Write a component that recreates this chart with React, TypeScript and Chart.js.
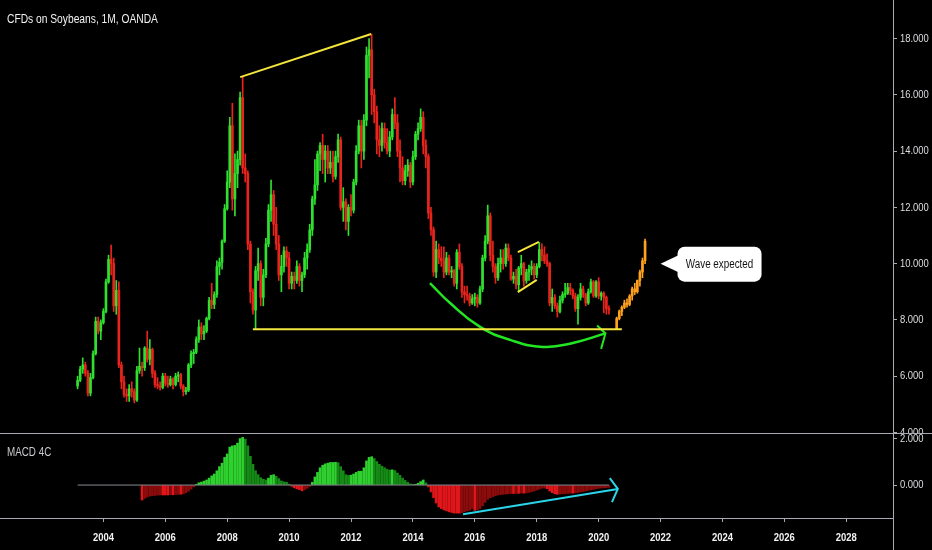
import { useEffect, useRef } from "react";
import { Chart, registerables, LinearScale } from "chart.js";

// A linear scale whose tick labels are drawn in a narrow (Arial Narrow-like) style.
const NARROW = 0.82;
class NarrowLinearScale extends LinearScale {
  static id = "narrowLinear";
  drawLabels(chartArea: any) {
    const self: any = this;
    const ctx = self.ctx;
    const items = self.getLabelItems(chartArea);
    for (const item of items) {
      const o = item.options;
      ctx.save();
      ctx.translate(o.translation[0], o.translation[1]);
      ctx.scale(NARROW, 1);
      ctx.font = item.font.string;
      ctx.fillStyle = o.color;
      ctx.textAlign = o.textAlign;
      ctx.textBaseline = o.textBaseline;
      ctx.fillText(String(item.label), 0, item.textOffset);
      ctx.restore();
    }
  }
}

Chart.register(...registerables, NarrowLinearScale as any);

// ---------- DATA ----------
// Monthly candles, first candle = March 2003, last = May 2020
const START_YEAR = 2003;
const START_MONTH = 3;

const opens = [
  5.65, 5.85, 6.25, 6.40, 6.10, 5.40, 5.95, 6.80, 7.95, 7.60,
  7.90, 8.30, 9.35, 10.15, 10.00, 8.50, 9.05, 6.40, 5.80, 5.35, 5.30, 5.55,
  5.45, 5.15, 6.20, 6.35, 6.30, 7.00, 6.60, 6.95, 6.10, 5.70, 5.65, 5.60,
  6.00, 5.75, 5.70, 5.90, 5.70, 6.00, 6.05, 5.65, 5.45, 5.50, 6.40, 6.80,
  6.85, 7.30, 7.75, 7.50, 7.60, 8.05, 8.70, 8.55, 8.90, 9.90, 10.05, 10.80,
  11.95, 12.90, 14.90, 12.30, 13.20, 13.70, 15.90, 13.40, 13.20, 10.70, 9.00, 8.35,
  9.75, 10.00, 8.80, 9.60, 10.70, 11.90, 12.45, 11.40, 10.70, 9.60, 9.90, 10.45,
  10.20, 9.30, 9.55, 9.40, 9.90, 9.40, 9.60, 10.20, 10.50, 11.20, 12.30, 12.80,
  13.90, 14.20, 13.70, 14.00, 13.40, 13.60, 13.10, 13.80, 14.40, 12.00, 12.20, 11.50,
  12.00, 11.90, 12.90, 14.00, 14.90, 14.00, 15.10, 17.40, 17.60, 16.00, 15.40, 14.40,
  14.20, 14.80, 14.30, 14.00, 14.50, 15.30, 15.00, 14.00, 13.40, 12.95, 13.30, 13.50,
  12.90, 13.80, 14.60, 14.80, 15.20, 14.20, 13.80, 11.80, 11.20, 9.70, 10.50, 10.20,
  10.10, 9.70, 10.20, 9.70, 9.75, 9.30, 10.40, 9.90, 9.00, 8.90, 8.85, 8.60,
  8.75, 8.80, 8.60, 9.10, 10.20, 10.80, 11.70, 10.30, 9.90, 9.50, 10.00, 10.20,
  10.00, 10.55, 10.20, 9.45, 9.55, 9.25, 9.85, 10.00, 9.40, 9.70, 9.80, 9.90,
  9.60, 9.90, 10.50, 10.30, 10.10, 10.00, 8.60, 8.80, 8.50, 8.30, 8.70, 8.90,
  8.95, 9.15, 9.05, 8.85, 8.40, 8.80, 9.10, 8.90, 8.60, 9.00, 9.35, 8.85,
  9.35, 8.85, 8.95, 8.80, 8.40,
];
const highs = [
  6.00, 6.35, 6.65, 6.50, 6.20, 6.10, 6.90, 8.10, 8.10, 8.00,
  8.40, 9.45, 10.30, 10.66, 10.20, 9.40, 9.35, 6.50, 6.00, 5.55, 5.70, 5.80,
  5.55, 6.35, 7.00, 6.50, 7.05, 7.60, 7.30, 7.00, 6.20, 5.95, 5.80, 6.10,
  6.10, 6.00, 6.00, 5.95, 6.10, 6.15, 6.10, 5.70, 5.60, 6.45, 6.90, 6.95,
  7.40, 8.00, 7.90, 7.80, 8.10, 8.80, 9.30, 9.00, 10.10, 10.20, 10.85, 12.10,
  13.30, 15.20, 15.70, 13.90, 14.00, 16.10, 16.63, 13.90, 13.30, 10.80, 9.10, 9.90,
  10.55, 10.10, 9.80, 10.90, 12.10, 12.97, 12.60, 12.00, 11.00, 10.30, 10.60, 10.60,
  10.40, 9.70, 9.70, 10.10, 10.00, 9.70, 10.40, 10.70, 11.40, 12.40, 13.70, 14.00,
  14.30, 14.60, 14.20, 14.20, 14.00, 14.00, 14.00, 14.60, 14.50, 12.70, 12.30, 12.10,
  12.45, 13.00, 14.20, 15.10, 15.10, 15.30, 17.70, 18.00, 18.16, 16.20, 15.60, 14.90,
  15.00, 15.00, 14.80, 14.70, 15.50, 15.90, 15.30, 14.40, 13.80, 13.50, 13.70, 13.60,
  14.00, 14.70, 15.00, 15.50, 15.40, 14.40, 13.90, 12.00, 11.30, 10.80, 10.70, 10.60,
  10.60, 10.40, 10.30, 9.90, 9.80, 10.50, 10.70, 10.00, 9.20, 9.20, 8.95, 8.90,
  8.95, 8.90, 9.20, 10.30, 11.00, 12.08, 11.80, 10.80, 10.00, 10.20, 10.50, 10.50,
  10.70, 10.70, 10.30, 9.70, 9.80, 9.90, 10.30, 10.05, 9.80, 9.95, 10.10, 10.00,
  10.00, 10.75, 10.70, 10.60, 10.35, 10.05, 9.10, 8.90, 8.60, 8.85, 9.00, 9.30,
  9.30, 9.30, 9.10, 8.95, 8.90, 9.30, 9.20, 8.95, 9.10, 9.45, 9.40, 9.40,
  9.50, 9.00, 9.00, 8.85, 8.50,
];
const lows = [
  5.55, 5.80, 6.10, 6.00, 5.30, 5.30, 5.90, 6.75, 7.50, 7.30,
  7.85, 8.25, 9.30, 9.60, 8.30, 8.20, 6.30, 5.55, 5.25, 5.10, 5.10, 5.25,
  5.05, 5.10, 6.10, 6.00, 6.20, 6.50, 6.40, 5.95, 5.60, 5.55, 5.50, 5.55,
  5.65, 5.60, 5.65, 5.55, 5.65, 5.80, 5.55, 5.30, 5.35, 5.45, 6.30, 6.45,
  6.80, 7.20, 7.30, 7.30, 7.55, 8.00, 8.40, 8.40, 8.80, 9.60, 9.80, 10.75,
  11.90, 12.70, 11.90, 11.70, 12.70, 13.50, 13.20, 12.90, 10.50, 8.60, 8.20, 7.67,
  9.40, 8.50, 8.50, 9.50, 10.60, 11.50, 11.00, 10.50, 9.40, 9.00, 9.70, 9.90,
  9.10, 9.10, 9.10, 9.30, 9.20, 9.00, 9.50, 9.80, 10.40, 11.00, 12.10, 12.60,
  13.30, 13.20, 12.90, 13.20, 13.20, 12.90, 13.00, 13.60, 11.90, 11.50, 11.20, 11.00,
  11.70, 11.80, 12.80, 13.90, 13.40, 13.70, 14.90, 16.60, 15.30, 15.00, 13.90, 13.80,
  14.00, 14.10, 13.90, 13.80, 14.40, 14.80, 13.80, 12.90, 12.80, 12.80, 13.10, 12.70,
  12.80, 13.70, 14.40, 14.70, 13.90, 13.40, 11.60, 11.00, 9.55, 9.50, 10.00, 9.90,
  9.50, 9.60, 9.60, 9.50, 9.20, 9.10, 9.80, 8.80, 8.60, 8.70, 8.50, 8.55,
  8.50, 8.45, 8.55, 9.00, 10.10, 10.70, 10.10, 9.70, 9.30, 9.40, 9.70, 9.80,
  9.90, 10.10, 9.40, 9.30, 9.10, 9.00, 9.60, 9.20, 9.30, 9.40, 9.60, 9.45,
  9.50, 9.85, 10.10, 10.00, 9.90, 8.50, 8.30, 8.40, 8.10, 8.25, 8.60, 8.80,
  8.90, 8.90, 8.75, 8.30, 7.85, 8.70, 8.80, 8.50, 8.55, 8.95, 8.80, 8.80,
  8.75, 8.70, 8.25, 8.20, 8.20,
];
const closes = [
  5.85, 6.25, 6.40, 6.10, 5.40, 5.95, 6.80, 7.95, 7.60, 7.90,
  8.30, 9.35, 10.15, 10.00, 8.50, 9.05, 6.40, 5.80, 5.35, 5.30, 5.55, 5.45,
  5.15, 6.20, 6.35, 6.30, 7.00, 6.60, 6.95, 6.10, 5.70, 5.65, 5.60, 6.00,
  5.75, 5.70, 5.90, 5.70, 6.00, 6.05, 5.65, 5.45, 5.50, 6.40, 6.80, 6.85,
  7.30, 7.75, 7.50, 7.60, 8.05, 8.70, 8.55, 8.90, 9.90, 10.05, 10.80, 11.95,
  12.90, 14.90, 12.30, 13.20, 13.70, 15.90, 13.40, 13.20, 10.70, 9.00, 8.35, 9.75,
  10.00, 8.80, 9.60, 10.70, 11.90, 12.45, 11.40, 10.70, 9.60, 9.90, 10.45, 10.20,
  9.30, 9.55, 9.40, 9.90, 9.40, 9.60, 10.20, 10.50, 11.20, 12.30, 12.80, 13.90,
  14.20, 13.70, 14.00, 13.40, 13.60, 13.10, 13.80, 14.40, 12.00, 12.20, 11.50, 12.00,
  11.90, 12.90, 14.00, 14.90, 14.00, 15.10, 17.40, 17.60, 16.00, 15.40, 14.40, 14.20,
  14.80, 14.30, 14.00, 14.50, 15.30, 15.00, 14.00, 13.40, 12.95, 13.30, 13.50, 12.90,
  13.80, 14.60, 14.80, 15.20, 14.20, 13.80, 11.80, 11.20, 9.70, 10.50, 10.20, 10.10,
  9.70, 10.20, 9.70, 9.75, 9.30, 10.40, 9.90, 9.00, 8.90, 8.85, 8.60, 8.75,
  8.80, 8.60, 9.10, 10.20, 10.80, 11.70, 10.30, 9.90, 9.50, 10.00, 10.20, 10.00,
  10.55, 10.20, 9.45, 9.55, 9.25, 9.85, 10.00, 9.40, 9.70, 9.80, 9.90, 9.60,
  9.90, 10.50, 10.30, 10.10, 10.00, 8.60, 8.80, 8.50, 8.30, 8.70, 8.90, 8.95,
  9.15, 9.05, 8.85, 8.40, 8.80, 9.10, 8.90, 8.60, 9.00, 9.35, 8.85, 9.35,
  8.85, 8.95, 8.80, 8.40, 8.35,
];

// Projected ("wave expected") candles, Aug 2020 .. Jul 2021
const FORECAST_START_INDEX = 209;
const forecastOpens = [7.67, 8.05, 8.30, 8.45, 8.60, 8.55, 8.85, 9.10, 9.00, 9.40, 9.70, 10.10];
const forecastHighs = [8.10, 8.35, 8.50, 8.70, 8.75, 8.90, 9.17, 9.30, 9.42, 9.77, 10.20, 10.87];
const forecastLows = [7.67, 8.00, 8.15, 8.40, 8.45, 8.50, 8.70, 8.90, 8.95, 9.20, 9.50, 10.00];
const forecastCloses = [8.05, 8.30, 8.45, 8.60, 8.55, 8.85, 9.10, 9.00, 9.40, 9.70, 10.10, 10.80];

// MACD 4C values, Apr 2005 .. May 2020
const MACD_START_INDEX = 25;
const macdValues = [
  -0.65, -0.58, -0.52, -0.48, -0.46, -0.45, -0.44, -0.43, -0.43,
  -0.43, -0.43, -0.42, -0.42, -0.41, -0.40, -0.40, -0.38, -0.33, -0.27, -0.18, -0.08,
  0.03, 0.10, 0.13, 0.17, 0.22, 0.30, 0.40, 0.48, 0.62, 0.80, 0.95, 1.20,
  1.35, 1.65, 1.70, 1.72, 1.82, 2.02, 2.07, 1.99, 1.70, 1.25, 0.90, 0.62,
  0.45, 0.32, 0.25, 0.22, 0.30, 0.42, 0.45, 0.38, 0.28, 0.18, 0.14, 0.12,
  0.04, -0.05, -0.12, -0.16, -0.20, -0.25, -0.20, -0.14, -0.06, 0.12, 0.35, 0.55,
  0.75, 0.86, 0.92, 0.95, 0.98, 0.98, 0.99, 0.97, 0.80, 0.62, 0.45, 0.42,
  0.43, 0.48, 0.55, 0.60, 0.60, 0.75, 1.05, 1.20, 1.23, 1.15, 1.02, 0.90,
  0.82, 0.75, 0.68, 0.65, 0.66, 0.63, 0.52, 0.42, 0.30, 0.20, 0.12, 0.05,
  0.03, 0.03, 0.08, 0.15, 0.22, 0.10, -0.08, -0.30, -0.55, -0.78, -0.95, -1.02,
  -1.08, -1.12, -1.16, -1.19, -1.22, -1.22, -1.22, -1.20, -1.16, -1.12, -1.09, -1.02,
  -1.10, -1.08, -1.02, -0.90, -0.75, -0.62, -0.55, -0.50, -0.46, -0.43, -0.41, -0.40,
  -0.39, -0.38, -0.37, -0.37, -0.36, -0.36, -0.35, -0.35, -0.34, -0.32, -0.29, -0.26,
  -0.22, -0.18, -0.14, -0.13, -0.16, -0.26, -0.33, -0.38, -0.40, -0.39, -0.38, -0.37,
  -0.36, -0.35, -0.35, -0.34, -0.32, -0.30, -0.28, -0.26, -0.23, -0.21, -0.19, -0.16,
  -0.14, -0.13, -0.12, -0.11, -0.10,
];

// Drawings (in data coordinates: year, price)
const topTrendLine = [{ x: 2008.42, y: 16.63 }, { x: 2012.65, y: 18.16 }];
const supportLine = [{ x: 2008.83, y: 7.67 }, { x: 2020.75, y: 7.67 }];
const flagUpper = [{ x: 2017.39, y: 10.41 }, { x: 2018.07, y: 10.77 }];
const flagLower = [{ x: 2017.39, y: 8.99 }, { x: 2018.0, y: 9.42 }];
const greenArc = [
  { x: 2014.55, y: 9.31 }, { x: 2015.2, y: 8.6 }, { x: 2016.17, y: 7.75 },
  { x: 2017.14, y: 7.29 }, { x: 2018.2, y: 7.04 }, { x: 2019.17, y: 7.18 },
  { x: 2020.22, y: 7.52 },
];
const greenArrowHead = [{ x: 2019.95, y: 7.8 }, { x: 2020.22, y: 7.52 }, { x: 2020.08, y: 6.97 }];
const macdTrendLine = [{ x: 2015.62, y: -1.27 }, { x: 2020.62, y: -0.17 }];
const macdArrowHead = [{ x: 2020.36, y: 0.3 }, { x: 2020.62, y: -0.17 }, { x: 2020.43, y: -0.74 }];
const calloutAnchor = { x: 2022.0, y: 10.0 };
const calloutText = "Wave expected";
const chartTitle = "CFDs on Soybeans, 1M, OANDA";
const macdTitle = "MACD 4C";

const priceTicks = [4, 6, 8, 10, 12, 14, 16, 18];
const macdTicks = [0, 2];
const yearTicks = [2004, 2006, 2008, 2010, 2012, 2014, 2016, 2018, 2020, 2022, 2024, 2026, 2028];

// ---------- STYLE ----------
const X_MIN = 2000.66;
const X_MAX = 2029.51;
const FONT = "'Liberation Sans', Arial, sans-serif";
const UP = "#2fe02f";
const DOWN = "#e8241c";
const ORANGE = "#ffa01e";
const YELLOW = "#f5e63c";
const AXIS = "#a8abb3";
const TEXT = "#dcdde0";

const monthToX = (i: number) => START_YEAR + (START_MONTH - 1 + i) / 12;

const fixAxisWidth = (scale: any) => {
  scale.width = 39;
  scale.paddingTop = 0;
  scale.paddingBottom = 0;
};

const narrowText = (
  ctx: CanvasRenderingContext2D,
  text: string,
  x: number,
  y: number,
  font: string,
  color: string,
  align: CanvasTextAlign
) => {
  ctx.save();
  ctx.translate(x, y);
  ctx.scale(NARROW, 1);
  ctx.font = font;
  ctx.fillStyle = color;
  ctx.textAlign = align;
  ctx.textBaseline = "middle";
  ctx.fillText(text, 0, 0);
  ctx.restore();
};

export default function App() {
  const priceRef = useRef<HTMLCanvasElement | null>(null);
  const macdRef = useRef<HTMLCanvasElement | null>(null);

  useEffect(() => {
    document.body.style.margin = "0";
    document.body.style.background = "#000";
    document.documentElement.style.background = "#000";

    const isUp = (i: number) => closes[i] >= opens[i];

    const wicks = highs.map((h, i) => ({ x: monthToX(i), y: [lows[i], h] }));
    const bodies = opens.map((o, i) => ({ x: monthToX(i), y: [o, closes[i]] }));
    const fWicks = forecastHighs.map((h, i) => ({
      x: monthToX(FORECAST_START_INDEX + i),
      y: [forecastLows[i], h],
    }));
    const fBodies = forecastOpens.map((o, i) => ({
      x: monthToX(FORECAST_START_INDEX + i),
      y: [o, forecastCloses[i]],
    }));

    const lineDs = (data: any[], color: string, width: number, extra: any = {}) => ({
      type: "line" as const,
      data,
      borderColor: color,
      borderWidth: width,
      pointRadius: 0,
      fill: false,
      order: 0,
      ...extra,
    });

    const calloutPlugin = {
      id: "callout",
      afterDatasetsDraw(chart: any) {
        const { ctx, scales } = chart;
        const tx = scales.x.getPixelForValue(calloutAnchor.x);
        const ty = scales.y.getPixelForValue(calloutAnchor.y);
        ctx.save();
        ctx.fillStyle = "#ffffff";
        ctx.beginPath();
        ctx.moveTo(tx, ty);
        ctx.lineTo(tx + 19, ty - 9);
        ctx.lineTo(tx + 19, ty + 9);
        ctx.closePath();
        ctx.fill();
        const rx = tx + 17;
        const ry = ty - 17;
        const rw = 84;
        const rh = 35;
        ctx.beginPath();
        ctx.roundRect(rx, ry, rw, rh, 7);
        ctx.fill();
        ctx.restore();
        narrowText(ctx, calloutText, rx + rw / 2, ty + 1, `12px ${FONT}`, "#111111", "center");
        narrowText(ctx, chartTitle, 7, 20, `12.5px ${FONT}`, "#f2f2f2", "left");
      },
    };

    const price = new Chart(priceRef.current as HTMLCanvasElement, {
      type: "bar",
      data: {
        datasets: [
          {
            type: "bar",
            data: wicks as any,
            barThickness: 1,
            grouped: false,
            backgroundColor: (c: any) => (isUp(c.dataIndex) ? UP : DOWN),
            order: 2,
          },
          {
            type: "bar",
            data: bodies as any,
            barThickness: 2,
            minBarLength: 1,
            grouped: false,
            backgroundColor: (c: any) => (isUp(c.dataIndex) ? UP : DOWN),
            order: 1,
          },
          {
            type: "bar",
            data: fWicks as any,
            barThickness: 1,
            grouped: false,
            backgroundColor: ORANGE,
            order: 2,
          },
          {
            type: "bar",
            data: fBodies as any,
            barThickness: 2,
            minBarLength: 1,
            grouped: false,
            backgroundColor: ORANGE,
            order: 1,
          },
          lineDs(topTrendLine, YELLOW, 2),
          lineDs(supportLine, YELLOW, 2),
          lineDs(flagUpper, YELLOW, 2),
          lineDs(flagLower, YELLOW, 2),
          lineDs(greenArc, "#22e622", 2.5, { tension: 0.45 }),
          lineDs(greenArrowHead, "#22e622", 2),
        ] as any,
      },
      options: {
        animation: false,
        responsive: false,
        maintainAspectRatio: false,
        layout: { padding: 0 },
        plugins: { legend: { display: false }, tooltip: { enabled: false } },
        scales: {
          x: {
            type: "linear",
            min: X_MIN,
            max: X_MAX,
            offset: false,
            display: false,
          },
          y: {
            type: "narrowLinear",
            position: "right",
            min: 3.98,
            max: 19.37,
            afterBuildTicks: (s: any) => {
              s.ticks = priceTicks.map((v) => ({ value: v }));
            },
            afterFit: fixAxisWidth,
            grid: { drawOnChartArea: false, drawTicks: true, tickLength: 4, color: AXIS, offset: false },
            border: { display: true, color: AXIS, width: 1 },
            ticks: {
              color: TEXT,
              padding: 3,
              font: { family: FONT, size: 11.5 },
              callback: (v: any) => Number(v).toFixed(3),
            },
          } as any,
        },
      },
      plugins: [calloutPlugin],
    });

    const macdData = macdValues.map((v, i) => ({ x: monthToX(MACD_START_INDEX + i), y: v }));
    const macdColor = (c: any) => {
      const i = c.dataIndex;
      const v = macdValues[i];
      const prev = i > 0 ? macdValues[i - 1] : v;
      if (v >= 0) return v >= prev ? "#2ed12e" : "#168a16";
      return v <= prev ? "#e0161a" : "#8c0c0c";
    };

    const frame = {
      id: "frame",
      afterDraw(chart: any) {
        const { ctx, width, height, chartArea } = chart;
        ctx.save();
        ctx.strokeStyle = AXIS;
        ctx.lineWidth = 1;
        ctx.beginPath();
        ctx.moveTo(0, 0.5);
        ctx.lineTo(width, 0.5);
        ctx.moveTo(Math.round(chartArea.right) + 0.5, 0);
        ctx.lineTo(Math.round(chartArea.right) + 0.5, height);
        ctx.stroke();
        ctx.restore();
        narrowText(ctx, macdTitle, 7, 20, `12px ${FONT}`, "#c9cacd", "left");
      },
    };

    const macd = new Chart(macdRef.current as HTMLCanvasElement, {
      type: "bar",
      data: {
        datasets: [
          {
            type: "bar",
            data: macdData as any,
            barThickness: 2,
            grouped: false,
            backgroundColor: macdColor,
            order: 2,
          },
          lineDs(
            [{ x: monthToX(0), y: 0 }, { x: monthToX(opens.length - 1), y: 0 }],
            "#8a8c93",
            1,
            { order: 1 }
          ),
          lineDs(macdTrendLine, "#2bd5e8", 2),
          lineDs(macdArrowHead, "#2bd5e8", 2),
        ] as any,
      },
      options: {
        animation: false,
        responsive: false,
        maintainAspectRatio: false,
        layout: { padding: 0 },
        plugins: { legend: { display: false }, tooltip: { enabled: false } },
        scales: {
          x: {
            type: "narrowLinear",
            min: X_MIN,
            max: X_MAX,
            offset: false,
            position: "bottom",
            afterBuildTicks: (s: any) => {
              s.ticks = yearTicks.map((v) => ({ value: v }));
            },
            afterFit: (s: any) => {
              s.height = 32;
              s.paddingLeft = 0;
              s.paddingRight = 0;
            },
            grid: { drawOnChartArea: false, drawTicks: true, tickLength: 4, color: AXIS, offset: false },
            border: { display: true, color: AXIS, width: 1 },
            ticks: {
              autoSkip: false,
              maxRotation: 0,
              color: "#f2f2f2",
              padding: 9,
              font: { family: FONT, size: 11.5, weight: "bold" },
              callback: (v: any) => String(v),
            },
          } as any,
          y: {
            type: "narrowLinear",
            position: "right",
            min: -1.43,
            max: 2.26,
            afterBuildTicks: (s: any) => {
              s.ticks = macdTicks.map((v) => ({ value: v }));
            },
            afterFit: fixAxisWidth,
            grid: { drawOnChartArea: false, drawTicks: true, tickLength: 4, color: AXIS, offset: false },
            border: { display: true, color: AXIS, width: 1 },
            ticks: {
              color: TEXT,
              padding: 3,
              font: { family: FONT, size: 11.5 },
              callback: (v: any) => Number(v).toFixed(3),
            },
          } as any,
        },
      },
      plugins: [frame],
    });

    return () => {
      price.destroy();
      macd.destroy();
    };
  }, []);

  return (
    <div style={{ position: "relative", width: 932, height: 550, background: "#000", overflow: "hidden" }}>
      <canvas
        ref={priceRef}
        width={932}
        height={433}
        style={{ position: "absolute", left: 0, top: 0, width: 932, height: 433 }}
      />
      <canvas
        ref={macdRef}
        width={932}
        height={117}
        style={{ position: "absolute", left: 0, top: 433, width: 932, height: 117 }}
      />
    </div>
  );
}
